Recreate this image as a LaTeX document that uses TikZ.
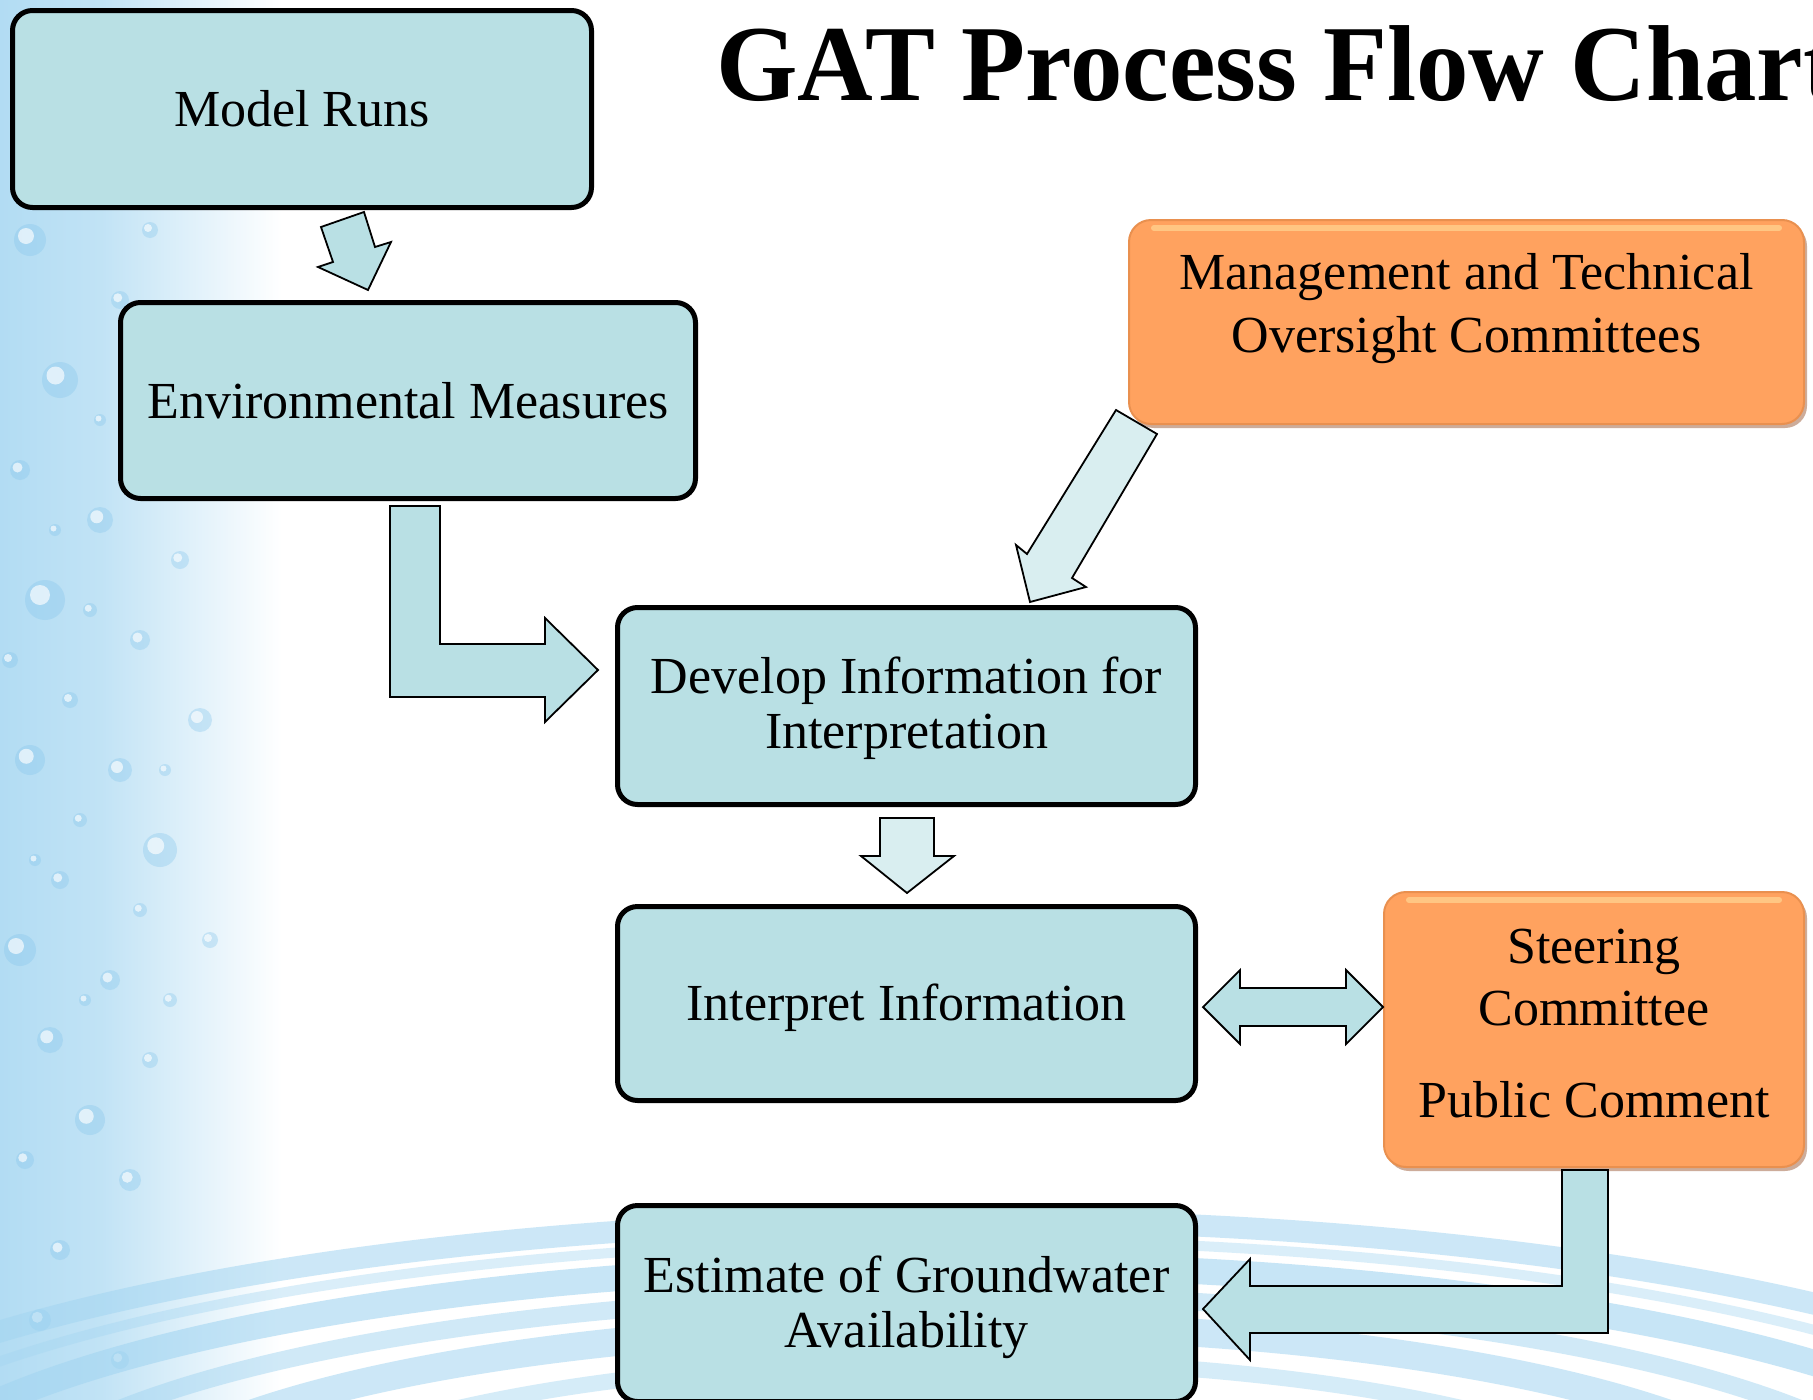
\documentclass[tikz,border=0pt]{standalone}
\usepackage{fontspec}
\setmainfont{Liberation Serif}
\usetikzlibrary{calc}
\definecolor{boxblue}{HTML}{B9E0E4}
\definecolor{arrowlight}{HTML}{D9EEF0}
\definecolor{orangefill}{HTML}{FFA25F}
\definecolor{orangeedge}{HTML}{E9904F}
\definecolor{orangehi}{HTML}{FFD08C}
\definecolor{orangeshadow}{HTML}{B88A70}
\definecolor{dropblue}{HTML}{B2DCF3}
\definecolor{dropdark}{HTML}{86C6EC}
\definecolor{ripple}{HTML}{A3D5F1}
\pgfdeclarehorizontalshading{dropfade}{100bp}{color(0bp)=(dropblue); color(25bp)=(dropblue); color(42bp)=(dropblue!80!white); color(72bp)=(white); color(100bp)=(white)}
\begin{document}
\begin{tikzpicture}[x=1pt,y=-1pt,
  flowbox/.style={draw=black, line width=5pt, rounded corners=20pt, fill=boxblue, align=center, inner sep=0pt, font=\fontsize{52}{55}\selectfont},
  orangebox/.style={fill=orangefill, draw=orangeedge, line width=2pt, rounded corners=22pt, inner sep=0pt,
     preaction={fill=orangeshadow, opacity=0.7, transform canvas={shift={(3pt,-4pt)}}}},
  otext/.style={font=\fontsize{52}{62}\selectfont, anchor=base, inner sep=0pt},
  blockarrow/.style={draw=black, line width=1.8pt, fill=boxblue, line join=miter},
  lightarrow/.style={blockarrow, fill=arrowlight},
  titletext/.style={font=\fontsize{108}{110}\selectfont\bfseries, anchor=base west, inner sep=0pt, xscale=0.97},
]
\useasboundingbox (0,0) rectangle (1813,1400);
\fill[white] (0,0) rectangle (1813,1400);
% left water-drop panel
\shade[shading=dropfade] (0,0) rectangle (300,1400);
\foreach \x/\y/\r in {40/60/9,95/150/12,30/240/16,120/300/9,60/380/18,150/420/8,20/470/10,100/520/13,45/600/20,140/640/10,70/700/8,30/760/15,120/770/12,160/850/17,60/880/9,20/950/16,110/980/10,50/1040/13,150/1060/8,90/1120/15,25/1160/9,130/1180/11,60/1250/10,180/560/9,200/720/12,190/340/7,80/820/7,10/660/8,150/230/8,210/940/8,40/1320/11,120/1360/9,75/190/7,170/1000/7,100/420/6,55/530/6,175/470/6,90/610/7,165/770/6,35/860/6,140/910/7,85/1000/6}{
  \fill[dropdark, opacity=0.35] (\x,\y) circle [radius=\r*1pt];
  \fill[white, opacity=0.65] (\x-0.25*\r,\y-0.25*\r) circle [radius=0.5*\r*1pt];
}
% bottom ripples
\begin{scope}
\clip (0,1120) rectangle (1813,1400);
\foreach \rx/\ry/\lw/\op in {1250/310/22/0.55,1180/290/10/0.4,1100/265/26/0.6,980/235/18/0.5,860/205/28/0.55,720/170/16/0.45,560/130/22/0.4}{
  \draw[ripple, line width=\lw*1pt, opacity=\op] (960,1530) ellipse [x radius=\rx*1pt, y radius=\ry*1pt];
}
\end{scope}
% title
\node[titletext] (title) at (716,100) {GAT Process Flow Chart};
% blue boxes
\node[flowbox, minimum width=579pt, minimum height=197pt] (mr) at (302,109) {Model Runs};
\node[flowbox, minimum width=575pt, minimum height=196pt] (env) at (408,400.5) {Environmental Measures};
\node[flowbox, minimum width=578pt, minimum height=197pt] (dev) at (906.5,706) {\rule{0pt}{42pt}Develop Information for\\Interpretation};
\node[flowbox, minimum width=578pt, minimum height=194pt] (intp) at (906.5,1003.5) {\rule{0pt}{46pt}Interpret Information};
\node[flowbox, minimum width=578pt, minimum height=196pt] (est) at (906.5,1303.5) {\rule{0pt}{45pt}Estimate of Groundwater\\Availability};
% orange boxes
\node[orangebox, minimum width=675pt, minimum height=204pt] (mgmt) at (1466.5,322) {};
\draw[orangehi, line width=6pt, line cap=round, opacity=0.8] ($(mgmt.north west)+(26,9)$) -- ($(mgmt.north east)+(-26,9)$);
\node[otext] (mgmtA) at (1466.5,289) {Management and Technical};
\node[otext] (mgmtB) at (1466.5,352) {Oversight Committees};
\node[orangebox, minimum width=420pt, minimum height=275pt] (steer) at (1594,1029.5) {};
\draw[orangehi, line width=6pt, line cap=round, opacity=0.8] ($(steer.north west)+(26,9)$) -- ($(steer.north east)+(-26,9)$);
\node[otext] (steerA) at (1594,963) {Steering};
\node[otext] (steerB) at (1594,1025) {Committee};
\node[otext] (steerC) at (1594,1117) {Public Comment};
% block arrows
\draw[blockarrow] (321,227) -- (364,212) -- (375,247) -- (391,242) -- (368,290) -- (318,267) -- (333,262) -- cycle;
\draw[blockarrow] (390,506) -- (440,506) -- (440,644) -- (545,644) -- (545,618) -- (598,670) -- (545,722) -- (545,697) -- (390,697) -- cycle;
\draw[lightarrow] (1116,410) -- (1157,434) -- (1072,578) -- (1086,587) -- (1030,602) -- (1016,545) -- (1027,554) -- cycle;
\draw[lightarrow] (880,818) -- (934,818) -- (934,856) -- (954,856) -- (907,893) -- (861,856) -- (880,856) -- cycle;
\draw[blockarrow] (1203,1007) -- (1240,970) -- (1240,988) -- (1346,988) -- (1346,970) -- (1383,1007) -- (1346,1044) -- (1346,1026) -- (1240,1026) -- (1240,1044) -- cycle;
\draw[blockarrow] (1562,1170) -- (1608,1170) -- (1608,1333) -- (1250,1333) -- (1250,1360) -- (1203,1309) -- (1250,1259) -- (1250,1286) -- (1562,1286) -- cycle;
\end{tikzpicture}
\end{document}
